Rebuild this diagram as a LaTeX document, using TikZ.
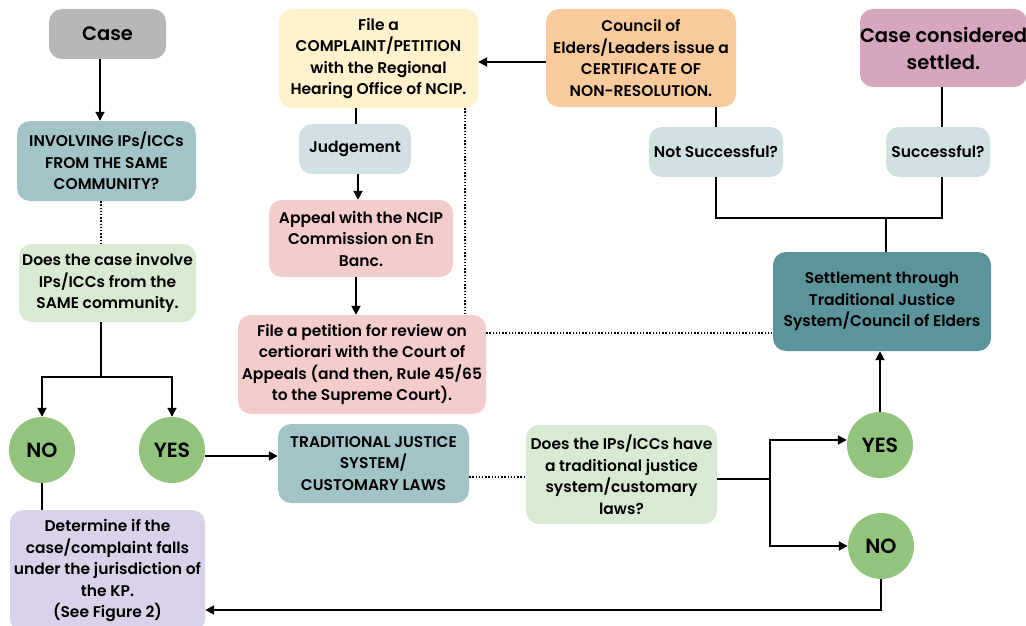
\documentclass[tikz,border=0pt]{standalone}
\usepackage{fontspec}
\setmainfont{Poppins}[BoldFont={Poppins SemiBold}]
\usetikzlibrary{arrows.meta}
\definecolor{cgray}{HTML}{B7B7B7}
\definecolor{cteal}{HTML}{A2C4C9}
\definecolor{cdteal}{HTML}{5B949B}
\definecolor{cgreen}{HTML}{D9EAD3}
\definecolor{cgreenc}{HTML}{93C47D}
\definecolor{cpurple}{HTML}{D9D2E9}
\definecolor{cyellow}{HTML}{FFF2CC}
\definecolor{cblue}{HTML}{D0E0E3}
\definecolor{cred}{HTML}{F4CCCC}
\definecolor{corange}{HTML}{F9CB9C}
\definecolor{cpink}{HTML}{D5A6BD}
\tikzset{
  box/.style={rectangle, rounded corners=13pt, inner sep=0pt, align=center,
    font=\fontsize{15.5}{21.5}\selectfont\bfseries, text=black},
  bigbox/.style={box, font=\fontsize{19.5}{27}\selectfont\bfseries},
  circ/.style={circle, fill=cgreenc, minimum size=66pt, inner sep=0pt,
    font=\fontsize{20.5}{22}\selectfont\bfseries},
  conn/.style={line width=1.8pt},
  arr/.style={conn, -{Triangle[length=9pt,width=9pt]}},
  dot/.style={line width=1.6pt, dash pattern=on 1.4pt off 1.8pt},
}
\newcommand{\bx}[8][box]{% style, name, x1, y1, x2, y2, fill, text
  \node[#1, fill=#7, minimum width={#5-#3}, minimum height={#6-#4}] (#2) at ({(#3+#5)/2},{(#4+#6)/2}) {#8};}
\begin{document}
\begin{tikzpicture}[x=1pt,y=-1pt]
\useasboundingbox (0,0) rectangle (1026,626);
\fill[white] (0,0) rectangle (1026,626);
% nodes
\bx[bigbox]{case}{49}{9}{166}{59}{cgray}{Case}
\bx{inv}{17}{121}{196}{201}{cteal}{INVOLVING IPs/ICCs\\FROM THE SAME\\COMMUNITY?}
\bx{does}{19}{244}{196}{322}{cgreen}{Does the case involve\\IPs/ICCs from the\\SAME community.}
\node[circ] (no1) at (42,450) {NO};
\node[circ] (yes1) at (172,450) {YES};
\bx{det}{10}{510}{205}{632}{cpurple}{Determine if the\\case/complaint falls\\under the jurisdiction of\\the KP.\\(See Figure 2)}
\bx{file}{279}{9}{478}{108}{cyellow}{File a\\COMPLAINT/PETITION\\with the Regional\\Hearing Office of NCIP.}
\bx{judg}{299}{124}{411}{174}{cblue}{Judgement}
\bx{app}{269}{200}{453}{277}{cred}{Appeal with the NCIP\\Commission on En\\Banc.}
\bx{pet}{238}{315}{486}{414}{cred}{File a petition for review on\\certiorari with the Court of\\Appeals (and then, Rule 45/65\\to the Supreme Court).}
\bx{tjs}{278}{424}{469}{503}{cteal}{TRADITIONAL JUSTICE\\SYSTEM/\\CUSTOMARY LAWS}
\bx{have}{526}{425}{717}{524}{cgreen}{Does the IPs/ICCs have\\a traditional justice\\system/customary\\laws?}
\node[circ] (yes2) at (880,445) {YES};
\node[circ] (no2) at (881,546) {NO};
\bx{settle}{773}{252}{991}{351}{cdteal}{Settlement through\\Traditional Justice\\System/Council of Elders}
\bx{council}{546}{9}{736}{107}{corange}{Council of\\Elders/Leaders issue a\\CERTIFICATE OF\\NON-RESOLUTION.}
\bx[bigbox]{settled}{861}{9}{1026}{87}{cpink}{Case considered\\settled.}
\bx{notsucc}{649}{127}{783}{177}{cblue}{Not Successful?}
\bx{succ}{886}{127}{990}{177}{cblue}{Successful?}
% connectors
\draw[arr] (case.south -| 100,0) -- (inv.north -| 100,0);
\draw[dot] (inv.south -| 101,0) -- (does.north -| 101,0);
\coordinate (j1) at (101,377);
\draw[conn] (does.south -| j1) -- (j1);
\draw[arr] (j1) -| (no1.north);
\draw[arr] (j1) -| (yes1.north);
\draw[arr] (yes1.east |- 0,456) -- (tjs.west |- 0,456);
\draw[dot] (tjs.east |- 0,477) -- (have.west |- 0,477);
\coordinate (j2) at (770,479);
\draw[conn] (have.east |- j2) -- (j2);
\draw[arr] (j2) |- (yes2.west |- 0,440);
\draw[arr] (j2) |- (no2.west);
\draw[arr] (yes2.north) -- (settle.south -| yes2.north);
\draw[arr] (no2.south) |- (det.east |- 0,610);
\draw[conn] (no1.south) -- (det.north -| no1.south);
\coordinate (j3) at (886,218);
\draw[conn] (settle.north -| j3) -- (j3);
\draw[conn] (notsucc.south -| 716,0) |- (j3);
\draw[conn] (succ.south -| 942,0) |- (j3);
\draw[conn] (notsucc.north -| 716,0) -- (council.south -| 716,0);
\draw[conn] (succ.north -| 942,0) -- (settled.south -| 942,0);
\draw[arr] (council.west |- 0,62) -- (file.east |- 0,62);
\draw[conn] (file.south -| 356,0) -- (judg.north -| 356,0);
\draw[arr] (judg.south -| 358,0) -- (app.north -| 358,0);
\draw[arr] (app.south -| 356,0) -- (pet.north -| 356,0);
\draw[dot] (file.south -| 465,0) -- (pet.north -| 465,0);
\draw[dot] (pet.east |- 0,333) -- (settle.west |- 0,333);
\end{tikzpicture}
\end{document}
